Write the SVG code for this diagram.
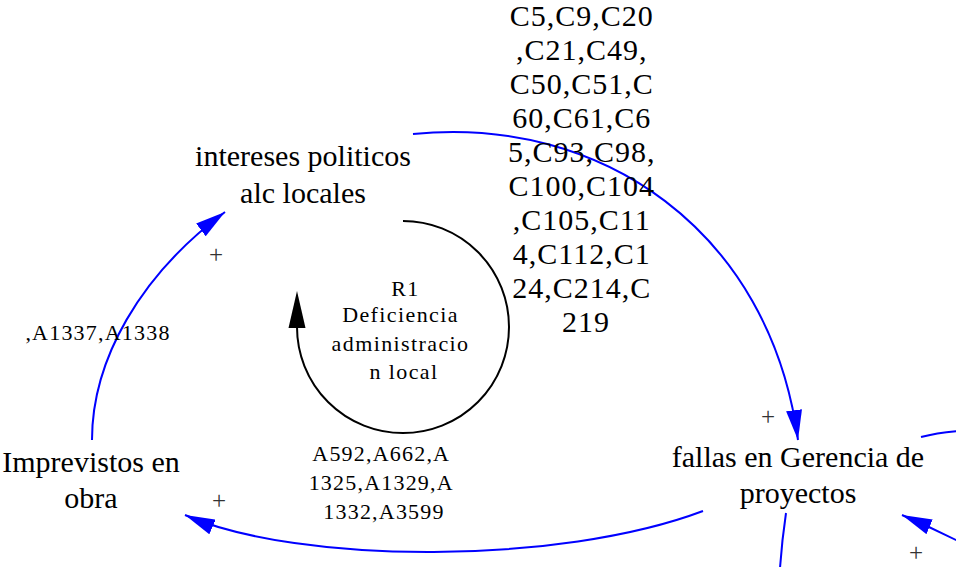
<svg xmlns="http://www.w3.org/2000/svg" width="956" height="567" viewBox="0 0 956 567">
<style>
  text { font-family: "Liberation Serif", "Times New Roman", serif; fill: #000; text-anchor: middle; }
  .node { font-size: 30px; }
  .clist { font-size: 30px; letter-spacing: 1px; }
  .small { font-size: 22px; letter-spacing: 1.2px; }
  .loop { font-size: 22px; letter-spacing: 1.4px; }
  .sign { font-size: 25px; fill: #333; }
  .link { fill: none; stroke: #0000ff; stroke-width: 2; }
  .loopline { fill: none; stroke: #000; stroke-width: 2; }
</style>
<defs>
  <marker id="arrow" viewBox="0 0 30 16" refX="30" refY="8" markerWidth="30" markerHeight="16" markerUnits="userSpaceOnUse" orient="auto">
    <path d="M0,0 L30,8 L0,16 z" fill="#0000ff"/>
  </marker>
</defs>
<rect width="956" height="567" fill="#fff"/>

<g id="connectors">
  <path class="link" d="M92,440 C92,360 140,275 225,212" marker-end="url(#arrow)"/>
  <path class="link" d="M413,134 C600,115 770,230 798,440" marker-end="url(#arrow)"/>
  <path class="link" d="M703,511 C560,565 300,565 185,515" marker-end="url(#arrow)"/>
  <path class="link" d="M921,437 C932,434 945,432 958,431"/>
  <path class="link" d="M958,541 Q930,527 902,515" marker-end="url(#arrow)"/>
  <path class="link" d="M786,513 Q782,540 780,568"/>
</g>

<g id="link-labels">
  <text class="sign" x="216" y="263">+</text>
  <text class="sign" x="768" y="425">+</text>
  <text class="sign" x="219" y="509">+</text>
  <text class="sign" x="916" y="561">+</text>
  <text class="small" x="98" y="340">,A1337,A1338</text>
  <text class="small">
    <tspan x="384" y="461">A592,A662,A</tspan>
    <tspan x="384" y="490">1325,A1329,A</tspan>
    <tspan x="384" y="519">1332,A3599</tspan>
  </text>
  <text class="clist">
    <tspan x="586" y="25.5">C5,C9,C20</tspan>
    <tspan x="586" y="59.6">,C21,C49,</tspan>
    <tspan x="586" y="93.7">C50,C51,C</tspan>
    <tspan x="586" y="127.8">60,C61,C6</tspan>
    <tspan x="586" y="161.9">5,C93,C98,</tspan>
    <tspan x="586" y="196">C100,C104</tspan>
    <tspan x="586" y="230.1">,C105,C11</tspan>
    <tspan x="586" y="264.2">4,C112,C1</tspan>
    <tspan x="586" y="298.3">24,C214,C</tspan>
    <tspan x="586" y="332.4">219</tspan>
  </text>
</g>

<g id="node-intereses">
  <text class="node"><tspan x="303" y="166">intereses politicos</tspan><tspan x="303" y="203">alc locales</tspan></text>
</g>

<g id="node-fallas">
  <text class="node"><tspan x="798" y="467">fallas en Gerencia de</tspan><tspan x="798" y="503">proyectos</tspan></text>
</g>

<g id="node-imprevistos">
  <text class="node"><tspan x="91" y="472">Imprevistos en</tspan><tspan x="91" y="508">obra</tspan></text>
</g>

<g id="loop-R1">
  <path class="loopline" d="M403,221 A106,106 0 1 1 297,327"/>
  <polygon points="297,291 288.5,328 305.5,328" fill="#000"/>
  <text class="loop">
    <tspan x="409" y="296">R1</tspan>
    <tspan x="404" y="322">Deficiencia</tspan>
    <tspan x="404" y="351">administracio</tspan>
    <tspan x="404" y="379">n local</tspan>
  </text>
</g>
</svg>
